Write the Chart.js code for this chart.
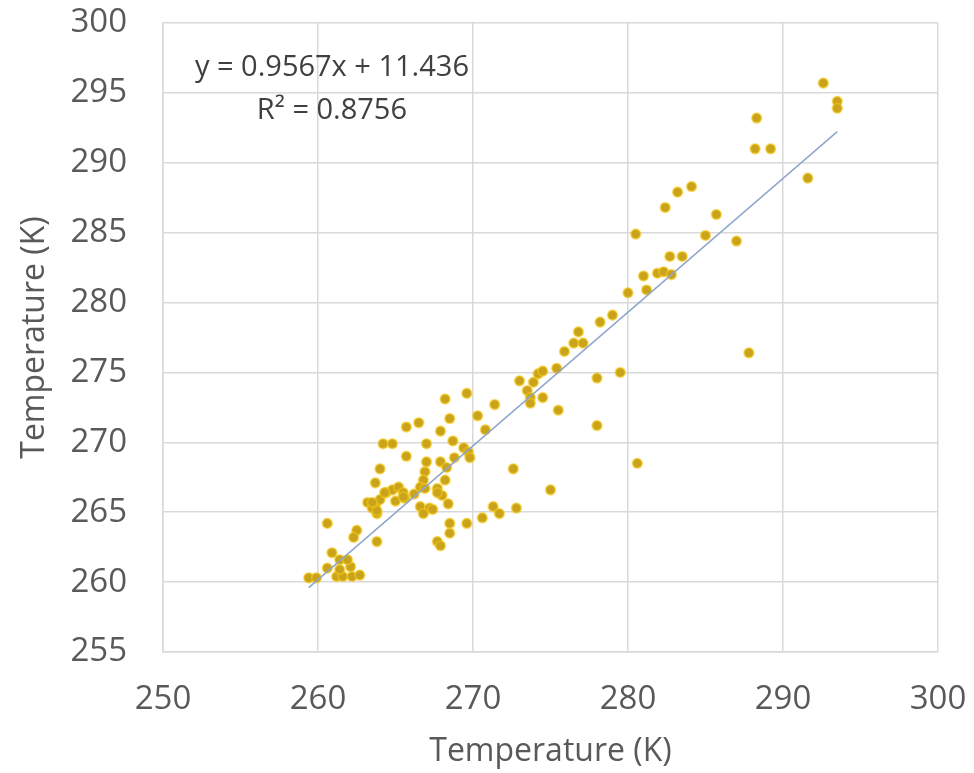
<!DOCTYPE html>
<html>
<head>
<meta charset="utf-8">
<script src="https://cdn.jsdelivr.net/npm/chart.js@4.4.0/dist/chart.umd.min.js"></script>
<style>
    html, body { margin: 0; padding: 0; background: #ffffff; }
    #wrap { width: 974px; height: 773px; }
</style>
</head>
<body>
<div id="wrap"><canvas id="scatter"></canvas></div>
<script>
const measuredX = [
    259.4, 259.9, 261.2, 261.6, 262.2, 262.7, 260.6, 261.4, 262.1, 260.9,
    261.4, 261.9, 260.6, 262.5, 262.3, 263.8, 263.2, 263.8, 263.7, 264.0,
    264.4, 264.8, 265.2, 265.5, 263.7, 264.0, 264.2, 264.8, 265.7, 265.7,
    266.5, 266.9, 266.8, 266.6, 266.6, 267.2, 266.8, 267.0, 267.0, 267.9,
    268.3, 268.2, 267.7, 268.0, 268.4, 267.9, 268.5, 268.2, 268.7, 269.4,
    269.7, 269.8, 269.6, 270.3, 270.8, 271.4, 267.7, 267.9, 268.5, 268.5,
    269.6, 270.6, 271.3, 271.7, 272.8, 272.6, 275.0, 265.6, 266.2, 267.7,
    265.0, 268.8, 266.9, 264.3, 265.5, 263.5, 263.8, 267.4, 263.5,
    273.0, 273.9, 273.5, 273.7, 274.5, 273.7, 274.2, 274.5, 275.4, 275.5,
    275.9, 276.5, 277.1, 276.8, 278.2, 279.0, 278.0, 279.5, 278.0, 280.6,
    280.0, 281.2, 281.0, 281.9, 282.3, 282.8, 282.7, 283.5, 280.5, 285.0,
    287.0, 282.4, 285.7, 283.2, 284.1, 287.8, 288.2, 289.2, 288.3, 291.6,
    292.6, 293.5, 293.5
];
const modelledY = [
    260.3, 260.3, 260.4, 260.4, 260.4, 260.5, 261.0, 260.9, 261.1, 262.1,
    261.6, 261.6, 264.2, 263.7, 263.2, 262.9, 265.7, 264.9, 265.5, 265.9,
    266.4, 266.6, 266.8, 266.4, 267.1, 268.1, 269.9, 269.9, 269.0, 271.1,
    271.4, 267.9, 267.3, 266.8, 265.4, 265.3, 264.9, 269.9, 268.6, 268.6,
    268.2, 267.3, 266.7, 266.2, 265.6, 270.8, 271.7, 273.1, 270.1, 269.6,
    269.3, 268.9, 273.5, 271.9, 270.9, 272.7, 262.9, 262.6, 264.2, 263.5,
    264.2, 264.6, 265.4, 264.9, 265.3, 268.1, 266.6, 266.0, 266.3, 266.4,
    265.8, 268.9, 266.7, 266.4, 266.1, 265.3, 265.1, 265.2, 265.7,
    274.4, 274.3, 273.7, 273.2, 273.2, 272.8, 274.9, 275.1, 275.3, 272.3,
    276.5, 277.1, 277.1, 277.9, 278.6, 279.1, 274.6, 275.0, 271.2, 268.5,
    280.7, 280.9, 281.9, 282.1, 282.2, 282.0, 283.3, 283.3, 284.9, 284.8,
    284.4, 286.8, 286.3, 287.9, 288.3, 276.4, 291.0, 291.0, 293.2, 288.9,
    295.7, 294.4, 293.9
];

// linear trendline as printed on the chart
const slope = 0.9567;
const intercept = 11.436;
const trendX = [259.4, 293.5];
const equationText = 'y = 0.9567x + 11.436';
const r2Text = 'R\u00B2 = 0.8756';

const xTicks = [250, 260, 270, 280, 290, 300];
const yTicks = [255, 260, 265, 270, 275, 280, 285, 290, 295, 300];

const textColor = '#595959';
const gridColor = '#d9d9d9';
const fontFamily = "'Open Sans', 'DejaVu Sans', sans-serif";

const points = measuredX.map((x, i) => ({ x: x, y: modelledY[i] }));
const trendPoints = trendX.map(x => ({ x: x, y: slope * x + intercept }));

// draws the equation and R² where Excel put them
const trendLabel = {
    id: 'trendLabel',
    afterDatasetsDraw(chart) {
        const { ctx, scales } = chart;
        const cx = scales.x.getPixelForValue(260.9);
        ctx.save();
        ctx.fillStyle = '#404040';
        ctx.font = "29px " + fontFamily;
        ctx.textAlign = 'center';
        ctx.textBaseline = 'middle';
        ctx.fillText(equationText, cx, scales.y.getPixelForValue(296.8));
        ctx.fillText(r2Text, cx, scales.y.getPixelForValue(293.7));
        ctx.restore();
    }
};

new Chart(document.getElementById('scatter'), {
    type: 'scatter',
    data: {
        datasets: [{
            label: 'Temperature',
            data: points,
            pointRadius: 4.8,
            pointHoverRadius: 4.8,
            backgroundColor: '#c9a31c',
            borderColor: 'rgba(245, 200, 20, 0.55)',
            borderWidth: 2,
            order: 2
        }, {
            label: 'Linear',
            type: 'line',
            data: trendPoints,
            borderColor: '#8fa6cc',
            borderWidth: 1.5,
            pointRadius: 0,
            fill: false,
            order: 1
        }]
    },
    options: {
        responsive: true,
        maintainAspectRatio: false,
        animation: false,
        layout: {
            padding: { left: 0, right: 36, top: 23, bottom: 0 }
        },
        scales: {
            x: {
                type: 'linear',
                min: 250,
                max: 300,
                afterBuildTicks: (scale) => { scale.ticks = xTicks.map(v => ({ value: v })); },
                afterFit: (scale) => { scale.height = 121; },
                grid: { color: gridColor, lineWidth: 1.5, drawTicks: true, tickLength: 26, tickColor: 'rgba(0,0,0,0)' },
                border: { color: gridColor, width: 1.5 },
                ticks: {
                    padding: 2,
                    color: textColor,
                    font: { family: fontFamily, size: 33 }
                },
                title: {
                    display: true,
                    text: 'Temperature (K)',
                    color: textColor,
                    font: { family: fontFamily, size: 32 },
                    padding: { top: 0, bottom: 2 }
                }
            },
            y: {
                type: 'linear',
                min: 255,
                max: 300,
                afterBuildTicks: (scale) => { scale.ticks = yTicks.map(v => ({ value: v })); },
                afterFit: (scale) => { scale.width = 163; },
                grid: { color: gridColor, lineWidth: 1.5, drawTicks: true, tickLength: 34, tickColor: 'rgba(0,0,0,0)' },
                border: { color: gridColor, width: 1.5 },
                ticks: {
                    padding: 2,
                    color: textColor,
                    font: { family: fontFamily, size: 33 }
                },
                title: {
                    display: true,
                    text: 'Temperature (K)',
                    color: textColor,
                    font: { family: fontFamily, size: 32 },
                    padding: { top: 16, bottom: 0 }
                }
            }
        },
        plugins: {
            legend: { display: false },
            tooltip: { enabled: false }
        }
    },
    plugins: [trendLabel]
});
</script>
</body>
</html>
